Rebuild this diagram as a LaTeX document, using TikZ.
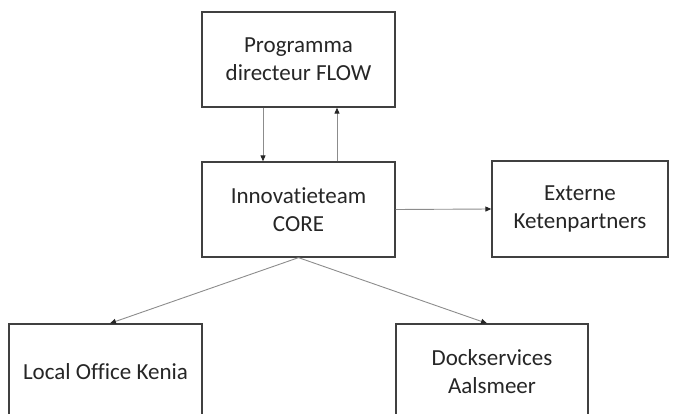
\documentclass[tikz,border=0pt]{standalone}
\usepackage{fontspec}
\setmainfont{Carlito}[Ligatures=NoCommon]
\usetikzlibrary{arrows.meta}
\definecolor{boxline}{HTML}{404040}
\definecolor{arrline}{HTML}{8C8C8C}
\begin{document}
\begin{tikzpicture}[x=1pt,y=-1pt,
  box/.style={draw=boxline,line width=1.3pt,fill=white,align=center,
    inner sep=0pt,font=\fontsize{23}{28}\selectfont,text=black!85},
  arr/.style={draw=arrline,line width=0.9pt,
    -{Triangle[length=6pt,width=5pt,fill=black!85,color=black!85]}}]
\useasboundingbox (0,0) rectangle (675,414);
\clip (0,0) rectangle (675,414);
\node[box,minimum width=193pt,minimum height=95pt] (top) at (298.5,59.5) {Programma\\directeur FLOW};
\node[box,minimum width=193pt,minimum height=95pt] (innov) at (298.5,209.5) {Innovatieteam\\CORE};
\node[box,minimum width=176pt,minimum height=96pt] (ext) at (580,209) {Externe\\Ketenpartners};
\node[box,minimum width=193pt,minimum height=95pt] (local) at (105.5,371.5) {Local Office Kenia};
\node[box,minimum width=192pt,minimum height=95pt] (dock) at (492,371.5) {Dockservices\\Aalsmeer};
\draw[arr] ([xshift=-35.5pt]top.south) -- ([xshift=-35.5pt]innov.north);
\draw[arr] ([xshift=38.5pt]innov.north) -- ([xshift=38.5pt]top.south);
\draw[arr] (innov.east) -- (ext.west);
\draw[arr] (innov.south) -- ([xshift=4.5pt]local.north);
\draw[arr] (innov.south) -- ([xshift=-5pt]dock.north);
\end{tikzpicture}
\end{document}
